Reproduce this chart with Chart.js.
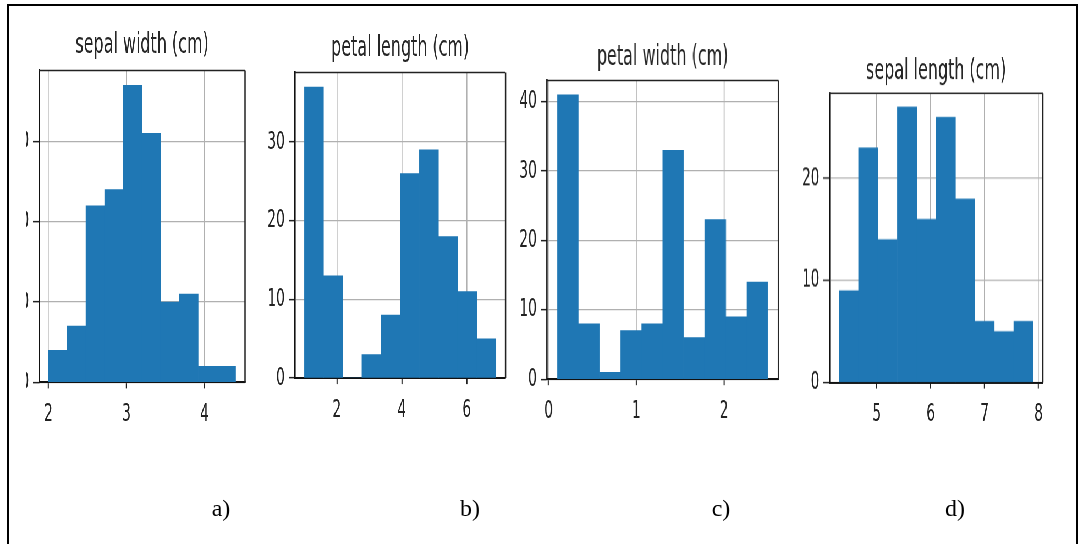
<!DOCTYPE html>
<html>
<head>
<meta charset="utf-8">
<script src="https://cdn.jsdelivr.net/npm/chart.js@4.4.1/dist/chart.umd.min.js"></script>
<style>
body { margin: 0; background: #fff; overflow: hidden; width: 1082px; height: 544px; position: relative; }
#frame { position: absolute; left: 7px; top: 4px; width: 1067px; height: 600px; border: 2px solid #000; }
#fig { position: absolute; left: 0; top: 0; width: 1968px; height: 544px; transform: scaleX(0.55); transform-origin: 0 0; }
.panel { position: absolute; }
.sub { position: absolute; top: 495px; width: 60px; margin-left: -30px; text-align: center;
       font-family: "Liberation Serif", serif; font-size: 24px; line-height: 26px; color: #000; }
</style>
</head>
<body>
<div id="frame"></div>
<div id="fig"></div>
<script>
// iris histograms, 10 bins each
const titles = ['sepal width (cm)', 'petal length (cm)', 'petal width (cm)', 'sepal length (cm)'];
const subLabels = ['a)', 'b)', 'c)', 'd)'];

const sepalWidthCounts = [4, 7, 22, 24, 37, 31, 10, 11, 2, 2];
const petalLengthCounts = [37, 13, 0, 3, 8, 26, 29, 18, 11, 5];
const petalWidthCounts = [41, 8, 1, 7, 8, 33, 6, 23, 9, 14];
const sepalLengthCounts = [9, 23, 14, 27, 16, 26, 18, 6, 5, 6];

// data range (first bin edge, last bin edge)
const sepalWidthRange = [2.0, 4.4];
const petalLengthRange = [1.0, 6.9];
const petalWidthRange = [0.1, 2.5];
const sepalLengthRange = [4.3, 7.9];

const sepalWidthTicks = [2, 3, 4];
const petalLengthTicks = [2, 4, 6];
const petalWidthTicks = [0, 1, 2];
const sepalLengthTicks = [5, 6, 7, 8];

const sepalWidthYTicks = [0, 10, 20, 30];
const petalLengthYTicks = [0, 10, 20, 30];
const petalWidthYTicks = [0, 10, 20, 30, 40];
const sepalLengthYTicks = [0, 10, 20];

const SQUISH = 0.55;   // the figure is squeezed sideways
const YW = 62, XH = 42, TSIZE = 29, TLH = TSIZE * 1.2;

// axes boxes in page pixels
const boxes = [
  { l: 39, r: 245, t: 70, b: 382, ty: 45, clip: 26 },
  { l: 295, r: 505.7, t: 72, b: 377.7, ty: 48 },
  { l: 546.7, r: 778, t: 80.7, b: 379.3, ty: 57.5 },
  { l: 829.3, r: 1042.7, t: 93.3, b: 381.7, ty: 71.5 }
];
const subX = [221, 470, 721, 955];

const spines = {
  id: 'spines',
  afterDraw(chart) {
    const { ctx, chartArea: a } = chart;
    ctx.save();
    ctx.strokeStyle = '#222';
    ctx.lineWidth = 1.5;
    ctx.beginPath(); ctx.moveTo(a.left, a.top); ctx.lineTo(a.right, a.top); ctx.stroke();
    ctx.lineWidth = 2.5;
    ctx.beginPath(); ctx.moveTo(a.right, a.top); ctx.lineTo(a.right, a.bottom); ctx.stroke();
    ctx.restore();
  }
};

function makeHist(i, counts, range, xTicks, yTicks) {
  const box = boxes[i];
  const fig = document.getElementById('fig');
  const canvasTop = box.ty - TLH / 2;
  const padB = box.t - canvasTop - TLH;
  const left = box.l / SQUISH - YW;
  const width = (box.r - box.l) / SQUISH + 2 * YW;
  const height = box.b - canvasTop + XH;

  const div = document.createElement('div');
  div.className = 'panel';
  div.style.left = left + 'px';
  div.style.top = canvasTop + 'px';
  div.style.width = width + 'px';
  div.style.height = height + 'px';
  if (box.clip) div.style.clipPath = 'inset(0 0 0 ' + (box.clip / SQUISH - left) + 'px)';
  const cv = document.createElement('canvas');
  div.appendChild(cv);
  fig.appendChild(div);

  const lo = range[0], hi = range[1];
  const w = (hi - lo) / counts.length;
  const pts = counts.map((c, k) => ({ x: lo + (k + 0.5) * w, y: c }));
  const xpad = (hi - lo) * 0.05;
  const ymax = Math.max(...counts) * 1.05;
  const tickFont = { family: 'DejaVu Sans', size: 25 };

  new Chart(cv, {
    type: 'bar',
    data: {
      datasets: [{
        data: pts,
        backgroundColor: '#1f77b4',
        borderWidth: 0,
        barPercentage: 1,
        categoryPercentage: 1
      }]
    },
    options: {
      responsive: true,
      maintainAspectRatio: false,
      animation: false,
      layout: { padding: 0 },
      plugins: {
        legend: { display: false },
        tooltip: { enabled: false },
        title: {
          display: true,
          text: titles[i],
          color: '#262626',
          font: { family: 'DejaVu Sans', size: TSIZE, weight: 'normal', lineHeight: 1.2 },
          padding: { top: 0, bottom: padB }
        }
      },
      scales: {
        x: {
          type: 'linear',
          offset: false,
          min: lo - xpad,
          max: hi + xpad,
          z: 1,
          afterBuildTicks: s => { s.ticks = xTicks.map(v => ({ value: v })); },
          afterFit: s => { s.height = XH; },
          grid: { offset: false, color: '#b0b0b0', lineWidth: 1.6, tickLength: 6, tickColor: '#222', tickWidth: 2 },
          border: { color: '#111', width: 2 },
          ticks: { font: tickFont, color: '#222', padding: 11, maxRotation: 0, autoSkip: false }
        },
        y: {
          min: 0,
          max: ymax,
          z: 1,
          afterBuildTicks: s => { s.ticks = yTicks.map(v => ({ value: v })); },
          afterFit: s => { s.width = YW; },
          grid: { color: '#b0b0b0', lineWidth: 1.3, tickLength: 11, tickColor: '#222', tickWidth: 1.5 },
          border: { color: '#111', width: 2.6 },
          ticks: { font: tickFont, color: '#222', padding: 7, autoSkip: false }
        },
        // empty right axis, only keeps the plot centred under its title
        yr: {
          position: 'right',
          min: 0,
          max: ymax,
          afterFit: s => { s.width = YW; },
          grid: { display: false, drawTicks: false },
          border: { display: false },
          ticks: { display: false }
        }
      }
    },
    plugins: [spines]
  });
}

makeHist(0, sepalWidthCounts, sepalWidthRange, sepalWidthTicks, sepalWidthYTicks);
makeHist(1, petalLengthCounts, petalLengthRange, petalLengthTicks, petalLengthYTicks);
makeHist(2, petalWidthCounts, petalWidthRange, petalWidthTicks, petalWidthYTicks);
makeHist(3, sepalLengthCounts, sepalLengthRange, sepalLengthTicks, sepalLengthYTicks);

subLabels.forEach((t, k) => {
  const d = document.createElement('div');
  d.className = 'sub';
  d.style.left = subX[k] + 'px';
  d.textContent = t;
  document.body.appendChild(d);
});
</script>
</body>
</html>
